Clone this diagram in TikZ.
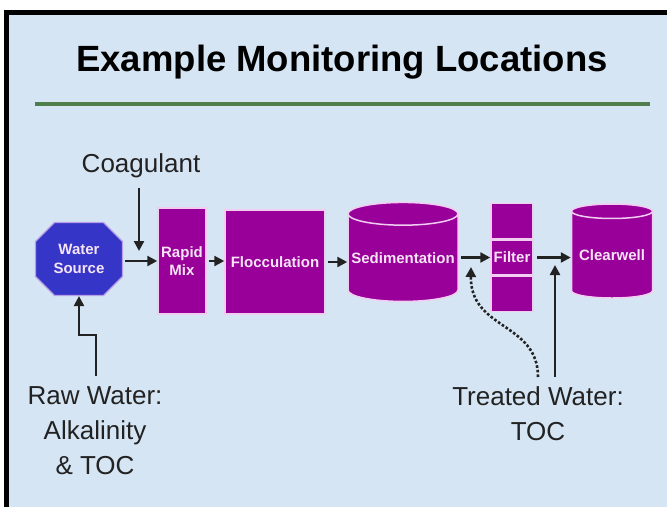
\documentclass[tikz,border=0pt]{standalone}
\usepackage{fontspec}
\setmainfont{Liberation Sans}
\usetikzlibrary{arrows.meta,positioning,shapes.geometric,shapes.misc}
\definecolor{slide}{HTML}{D6E5F4}
\definecolor{plum}{HTML}{990099}
\definecolor{rim}{HTML}{F2CDF2}
\definecolor{deepblue}{HTML}{3535C8}
\definecolor{rule}{HTML}{4F7E4C}
\definecolor{label}{HTML}{F6E4F6}
\definecolor{ink}{HTML}{222222}

\begin{document}
\begin{tikzpicture}[
  x=1pt, y=-1pt,
  flow/.style={
    ink,
    line width=2.4pt,
    -{Triangle[length=10pt,width=10pt]}
  },
  probe/.style={
    ink,
    line width=2.6pt,
    dash pattern=on 2.6pt off 2pt,
    -{Triangle[length=10pt,width=10pt]}
  },
  unit/.style={
    rectangle,
    draw=rim,
    fill=plum,
    line width=1.5pt,
    text=label,
    font=\bfseries\fontsize{15}{18}\selectfont,
    align=center,
    inner sep=0pt
  },
  tank/.style={
    cylinder,
    shape border rotate=90,
    draw=rim,
    fill=plum,
    line width=1.5pt,
    text=label,
    font=\bfseries\fontsize{15}{18}\selectfont,
    inner sep=0pt
  },
  note/.style={
    text=ink,
    align=center,
    font=\fontsize{26}{35}\selectfont
  }
]

% slide background and frame
\useasboundingbox (0,0) rectangle (667,507);
\fill[white] (0,0) rectangle (667,507);
\fill[slide] (6.5,12) rectangle (667,507);
\draw[black,line width=5pt] (6.5,507) -- (6.5,12) -- (667,12);

\node[font=\bfseries\fontsize{36.5}{40}\selectfont,text=black]
  (title) at (342,62) {Example Monitoring Locations};
\draw[rule,line width=3.5pt] (35,104) -- (650,104);

% process train
\node[chamfered rectangle,
      chamfered rectangle xsep=9pt,
      chamfered rectangle ysep=10pt,
      draw=rim!70!deepblue,fill=deepblue,line width=1.2pt,
      minimum width=87pt,minimum height=73pt,inner sep=0pt,
      text=label,align=center,
      font=\bfseries\fontsize{15}{19}\selectfont]
  (source) at (79,259) {Water\\Source};

\node[unit,minimum width=48pt,minimum height=106pt]
  (rapid) at (182,261) {Rapid\\Mix};
\node[unit,minimum width=100pt,minimum height=104pt]
  (floc) at (275,262) {Flocculation};
\node[tank,minimum width=110pt,minimum height=99pt,aspect=0.22]
  (sed) at (403,258) {Sedimentation};

\node[unit,minimum width=42pt,minimum height=35pt]
  (filtTop) at (512,221) {};
\node[unit,minimum width=42pt,minimum height=35pt,below=0pt of filtTop]
  (filter) {Filter};
\node[unit,minimum width=42pt,minimum height=35pt,below=0pt of filter]
  (filtLow) {};

\node[tank,minimum width=81pt,minimum height=94pt,aspect=0.22]
  (clear) at (612,255) {Clearwell};

\draw[flow,shorten <=2pt] (source.east |- rapid.west) -- (rapid.west);
\draw[flow,shorten <=2pt] (rapid.east) -- (rapid.east -| floc.west);
\draw[flow,shorten <=2pt] (floc.east) -- (floc.east -| sed.west);
\draw[flow,shorten <=2pt] (sed.east |- filter.west) -- (filter.west);
\draw[flow,shorten <=3pt] (filter.east) -- (filter.east -| clear.west);

% monitoring points
\node[note] (coag) at (141,166) {Coagulant};
\coordinate (dose) at (139,251);
\draw[flow,shorten <=6pt] (coag.south -| dose) -- (dose);

\node[note] (raw) at (95,431) {Raw Water:\\Alkalinity\\\& TOC};
\coordinate (rawTop) at (96,376);
\coordinate (kink) at (79,335);
\draw[flow] (rawTop) |- (kink) -- (source.south);

\node[note] (treated) at (538,414) {Treated Water:\\TOC};
\coordinate (probeTail) at (538,377);
\coordinate (sedTap) at (471,267);
\draw[probe] (probeTail) .. controls (538,322) and (470,330) .. (sedTap);
\coordinate (wellTail) at (555,377);
\coordinate (wellTap) at (555,265);
\draw[flow] (wellTail) -- (wellTap);

\end{tikzpicture}
\end{document}
